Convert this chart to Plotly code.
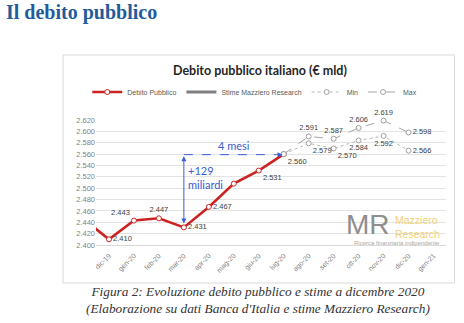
import plotly.graph_objects as go

# ---- data ----
months = ["nov-19", "dic-19", "gen-20", "feb-20", "mar-20", "apr-20", "mag-20",
          "giu-20", "lug-20", "ago-20", "set-20", "ott-20", "nov-20", "dic-20", "gen-21"]
debito = [2445, 2410, 2443, 2447, 2431, 2467, 2508, 2531, 2560]
debito_labels = [False, True, True, True, True, True, False, True, True]
debito_pos = ["middle right", "middle right", "top left", "top center", "middle right",
              "middle right", "middle right", "bottom right", "bottom right"]
stime_max = [2560, 2591, 2587, 2606, 2619, 2598]
stime_min = [2560, 2579, 2570, 2584, 2592, 2566]
max_pos = ["top center", "top center", "top center", "top center", "top center", "middle right"]
min_pos = ["bottom right", "bottom right", "bottom right", "bottom center", "bottom center", "middle right"]
max_labels = [False, True, True, True, True, True]
min_labels = [False, True, True, True, True, True]
y_ticks = [2400, 2420, 2440, 2460, 2480, 2500, 2520, 2540, 2560, 2580, 2600, 2620]


def fmt(v):
    return f"{v:,}".replace(",", ".")


x_idx = list(range(len(months)))
x_deb = x_idx[:len(debito)]
x_est = x_idx[len(debito) - 1:len(debito) - 1 + len(stime_max)]

LABEL_FONT = dict(family="Liberation Sans, Arial", size=7.5, color="#404040")

fig = go.Figure()
fig.add_trace(go.Scatter(
    x=x_deb, y=debito, name="Debito Pubblico", mode="lines+markers+text",
    line=dict(color="#cc2222", width=2.6),
    marker=dict(symbol="circle", size=5, color="white", line=dict(color="#cc2222", width=1)),
    text=[fmt(v) if s else "" for v, s in zip(debito, debito_labels)],
    textposition=debito_pos, textfont=LABEL_FONT, cliponaxis=True,
))
fig.add_trace(go.Scatter(
    x=[None], y=[None], name="Stime Mazziero Research", mode="lines",
    line=dict(color="#7f7f7f", width=3),
))
fig.add_trace(go.Scatter(
    x=x_est, y=stime_min, name="Min", mode="lines+markers+text",
    line=dict(color="#b8b8b8", width=1, dash="dot"),
    marker=dict(symbol="circle", size=5, color="white", line=dict(color="#a0a0a0", width=1)),
    text=[fmt(v) if s else "" for v, s in zip(stime_min, min_labels)],
    textposition=min_pos, textfont=LABEL_FONT, cliponaxis=False,
))
fig.add_trace(go.Scatter(
    x=x_est, y=stime_max, name="Max", mode="lines+markers+text",
    line=dict(color="#a6a6a6", width=1, dash="dash"),
    marker=dict(symbol="circle", size=5, color="white", line=dict(color="#a0a0a0", width=1)),
    text=[fmt(v) if s else "" for v, s in zip(stime_max, max_labels)],
    textposition=max_pos, textfont=LABEL_FONT, cliponaxis=False,
))

BLUE = "#3b5bd6"
i_mar = months.index("mar-20")
i_lug = months.index("lug-20")
# vertical double arrow
fig.add_annotation(x=i_mar, y=debito[i_mar] + 7, ax=i_mar, ay=debito[i_lug] - 1,
                   xref="x", yref="y", axref="x", ayref="y", text="", showarrow=True,
                   arrowhead=2, arrowside="end+start", arrowsize=1, arrowwidth=1, arrowcolor=BLUE)
# horizontal dashed line with arrow
fig.add_shape(type="line", x0=i_mar, x1=i_lug - 0.3, y0=debito[i_lug] - 1, y1=debito[i_lug] - 1,
              xref="x", yref="y", line=dict(color=BLUE, width=1, dash="dash"))
fig.add_annotation(x=i_lug - 0.05, y=debito[i_lug] - 1, ax=i_lug - 0.35, ay=debito[i_lug] - 1,
                   xref="x", yref="y", axref="x", ayref="y", text="", showarrow=True,
                   arrowhead=2, arrowsize=1, arrowwidth=1, arrowcolor=BLUE)
fig.add_annotation(x=(i_mar + i_lug) / 2, y=debito[i_lug] + 1, text="4 mesi", showarrow=False,
                   xref="x", yref="y", yanchor="bottom",
                   font=dict(family="Lato, Liberation Sans", size=11, color=BLUE))
fig.add_annotation(x=i_mar + 0.08, y=2518, text="+129<br>miliardi", showarrow=False,
                   xref="x", yref="y", xanchor="left", align="left",
                   font=dict(family="Lato, Liberation Sans", size=11, color=BLUE))

# chart frame / page geometry
W, H = 464, 323
L, R, T, B = 96, 17.5, 120, 78
pw, ph = W - L - R, H - T - B


def px(x):
    return (x - L) / pw


def py(y):
    return (H - B - y) / ph


# watermark logo
fig.add_annotation(x=px(392), y=py(224), xref="paper", yref="paper", text="MR", showarrow=False,
                   xanchor="right", yanchor="middle",
                   font=dict(family="Liberation Sans Narrow, Liberation Sans", size=28, color="#8e8e8e"))
fig.add_annotation(x=px(393), y=py(226.5), xref="paper", yref="paper", text="Mazziero<br>Research",
                   showarrow=False, xanchor="left", yanchor="middle", align="left",
                   font=dict(family="Liberation Sans", size=10.5, color="#f0d27a"))
fig.add_annotation(x=px(397), y=py(243), xref="paper", yref="paper", text="Ricerca finanziaria indipendente",
                   showarrow=False, xanchor="center", yanchor="middle",
                   font=dict(family="Liberation Sans", size=6, color="#a8a8a8"))

fig.add_shape(type="rect", xref="paper", yref="paper", x0=px(63), x1=px(455), y0=py(283), y1=py(55),
              line=dict(color="#d9d9d9", width=1), layer="below")
fig.add_annotation(x=px(260), y=py(70), xref="paper", yref="paper", text="<b>Debito pubblico italiano (€ mld)</b>",
                   showarrow=False, yanchor="middle",
                   font=dict(family="Lato, Liberation Sans", size=12.5, color="#262626"))
# page title
fig.add_annotation(x=px(4), y=py(13), xref="paper", yref="paper", text="<b>Il debito pubblico</b>",
                   showarrow=False, xanchor="left", yanchor="middle",
                   font=dict(family="Liberation Serif, DejaVu Serif", size=20, color="#1f5c9c"))
fig.add_annotation(x=px(258), y=py(299.5), xref="paper", yref="paper",
                   text="<i>Figura 2: Evoluzione debito pubblico e stime a dicembre 2020<br>(Elaborazione su dati Banca d'Italia e stime Mazziero Research)</i>",
                   showarrow=False, align="center", yanchor="middle",
                   font=dict(family="Liberation Serif, DejaVu Serif", size=13.3, color="#333333"))

fig.update_layout(
    width=W, height=H, margin=dict(l=L, r=R, t=T, b=B, autoexpand=False),
    paper_bgcolor="white", plot_bgcolor="white",
    separators=",.",
    showlegend=True,
    legend=dict(orientation="h", x=px(255), xanchor="center", y=py(92), yanchor="middle",
                font=dict(family="Liberation Sans", size=7, color="#595959"),
                itemwidth=30, tracegroupgap=0, bgcolor="rgba(0,0,0,0)"),
    xaxis=dict(range=[0.48, 14.5], tickvals=x_idx[1:], ticktext=months[1:], tickangle=-45,
               showgrid=False, zeroline=False, showline=True, linecolor="#d9d9d9",
               ticks="outside", ticklen=3, tickcolor="rgba(0,0,0,0)",
               automargin=False,
               tickfont=dict(family="Liberation Sans", size=7, color="#7f7f7f")),
    yaxis=dict(range=[2400, 2620], tickvals=y_ticks, ticktext=[fmt(v) for v in y_ticks],
               showgrid=True, gridcolor="#e3e3e3", gridwidth=1, zeroline=False, ticks="",
               automargin=False,
               tickfont=dict(family="Liberation Sans", size=7.5, color="#7f7f7f")),
)

fig.write_html("out.html")
